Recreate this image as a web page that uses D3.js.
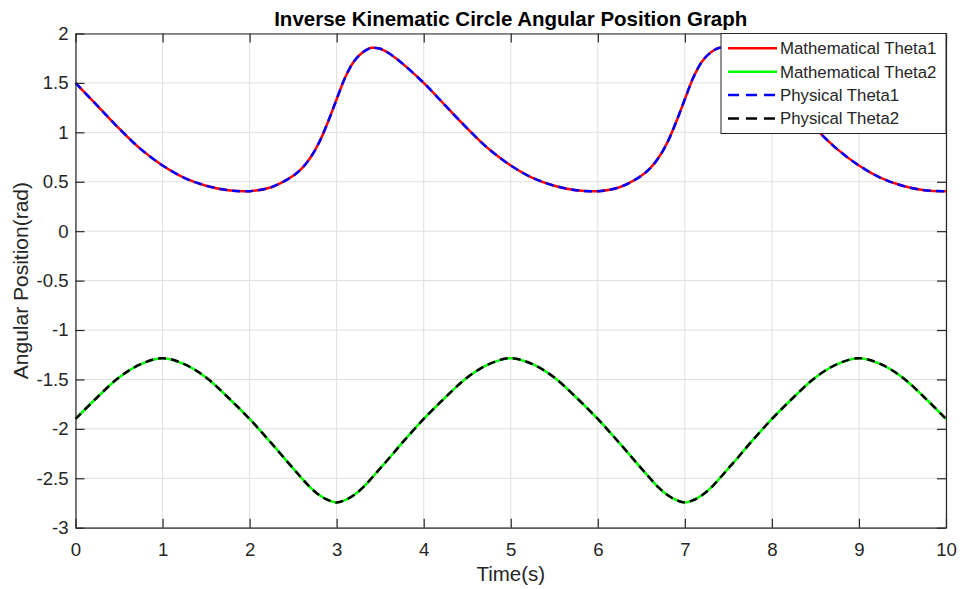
<!DOCTYPE html>
<html lang="en">
<head>
    <meta charset="UTF-8">
    <title>Inverse Kinematic Circle Angular Position Graph</title>
    <script src="https://d3js.org/d3.v7.min.js"></script>
    <style>
        body { margin: 0; background: #fff; }
        text { font-family: "Liberation Sans", Arial, sans-serif; }
    </style>
</head>
<body>
    <script>
        // time samples (s)
        const time = [
            0, 0.25, 0.5, 0.75, 1, 1.25, 1.5, 1.75, 2, 2.25, 2.5, 2.6, 2.7, 2.8, 2.9, 3, 3.1, 3.2, 3.3, 3.4, 3.5, 3.6, 3.75,
            4, 4.25, 4.5, 4.75, 5, 5.25, 5.5, 5.75, 6, 6.25, 6.5, 6.6, 6.7, 6.8, 6.9, 7, 7.1, 7.2, 7.3, 7.4, 7.5, 7.6, 7.75,
            8, 8.25, 8.5, 8.75, 9, 9.25, 9.5, 9.75, 10
        ];

        // theta1 (rad)
        const mathTheta1 = [
            1.50, 1.27, 1.04, 0.83, 0.665, 0.54, 0.46, 0.415, 0.405, 0.445, 0.56, 0.635, 0.745, 0.90, 1.105, 1.335, 1.56, 1.72, 1.81, 1.855, 1.845, 1.80, 1.70,
            1.50, 1.27, 1.04, 0.83, 0.665, 0.54, 0.46, 0.415, 0.405, 0.445, 0.56, 0.635, 0.745, 0.90, 1.105, 1.335, 1.56, 1.72, 1.81, 1.855, 1.845, 1.80, 1.70,
            1.50, 1.27, 1.04, 0.83, 0.665, 0.54, 0.46, 0.415, 0.405
        ];
        const physTheta1 = mathTheta1.slice();

        // theta2 (rad)
        const mathTheta2 = [
            -1.90, -1.68, -1.48, -1.345, -1.285, -1.345, -1.48, -1.68, -1.90, -2.145, -2.40, -2.50, -2.595, -2.67, -2.72, -2.745, -2.72, -2.67, -2.595, -2.50, -2.40, -2.30, -2.145,
            -1.90, -1.68, -1.48, -1.345, -1.285, -1.345, -1.48, -1.68, -1.90, -2.145, -2.40, -2.50, -2.595, -2.67, -2.72, -2.745, -2.72, -2.67, -2.595, -2.50, -2.40, -2.30, -2.145,
            -1.90, -1.68, -1.48, -1.345, -1.285, -1.345, -1.48, -1.68, -1.90
        ];
        const physTheta2 = mathTheta2.slice();

        const xTicks = [0, 1, 2, 3, 4, 5, 6, 7, 8, 9, 10];
        const yTicks = [-3, -2.5, -2, -1.5, -1, -0.5, 0, 0.5, 1, 1.5, 2];

        const series = [
            { name: "Mathematical Theta1", values: mathTheta1, color: "#ff0000", dash: null },
            { name: "Mathematical Theta2", values: mathTheta2, color: "#00ff00", dash: null },
            { name: "Physical Theta1", values: physTheta1, color: "#0000ff", dash: "8,5" },
            { name: "Physical Theta2", values: physTheta2, color: "#000000", dash: "8,5" }
        ];

        const width = 960, height = 589;
        const margin = { top: 33.5, right: 14, bottom: 61.3, left: 75.5 };
        const innerW = width - margin.left - margin.right;
        const innerH = height - margin.top - margin.bottom;
        const axisColor = "#262626";

        const svg = d3.select("body")
            .append("svg")
            .attr("width", width)
            .attr("height", height);

        svg.append("rect")
            .attr("width", width)
            .attr("height", height)
            .attr("fill", "#fff");

        const g = svg.append("g")
            .attr("transform", `translate(${margin.left},${margin.top})`);

        const x = d3.scaleLinear().domain([0, 10]).range([0, innerW]);
        const y = d3.scaleLinear().domain([-3, 2]).range([innerH, 0]);

        // grid
        g.append("g").selectAll("line")
            .data(xTicks)
            .join("line")
            .attr("x1", d => x(d)).attr("x2", d => x(d))
            .attr("y1", 0).attr("y2", innerH)
            .attr("stroke", "#dfdfdf");
        g.append("g").selectAll("line")
            .data(yTicks)
            .join("line")
            .attr("x1", 0).attr("x2", innerW)
            .attr("y1", d => y(d)).attr("y2", d => y(d))
            .attr("stroke", "#dfdfdf");

        // lines
        const line = d3.line()
            .x((d, i) => x(time[i]))
            .y(d => y(d))
            .curve(d3.curveCatmullRom.alpha(0.5));

        g.append("g").selectAll("path")
            .data(series)
            .join("path")
            .attr("d", d => line(d.values))
            .attr("fill", "none")
            .attr("stroke", d => d.color)
            .attr("stroke-width", 2.5)
            .attr("stroke-dasharray", d => d.dash);

        // axes (ticks point inward, box all round)
        const styleAxis = sel => {
            sel.select(".domain").attr("stroke", axisColor).attr("stroke-width", 1.2);
            sel.selectAll(".tick line").attr("stroke", axisColor).attr("stroke-width", 1.2);
            sel.selectAll(".tick text")
                .attr("fill", axisColor)
                .style("font-size", "18.6px");
        };

        g.append("g")
            .attr("transform", `translate(0,${innerH})`)
            .call(d3.axisBottom(x).tickValues(xTicks).tickSize(-9).tickPadding(15).tickSizeOuter(0).tickFormat(d => String(d)))
            .call(styleAxis);
        g.append("g")
            .call(d3.axisTop(x).tickValues(xTicks).tickSize(-9).tickSizeOuter(0).tickFormat(""))
            .call(styleAxis);
        g.append("g")
            .call(d3.axisLeft(y).tickValues(yTicks).tickSize(-9).tickPadding(7).tickSizeOuter(0).tickFormat(d => String(d)))
            .call(styleAxis);
        g.append("g")
            .attr("transform", `translate(${innerW},0)`)
            .call(d3.axisRight(y).tickValues(yTicks).tickSize(-9).tickSizeOuter(0).tickFormat(""))
            .call(styleAxis);

        // titles
        svg.append("text")
            .attr("x", margin.left + innerW / 2)
            .attr("y", 25.5)
            .attr("text-anchor", "middle")
            .attr("font-weight", "bold")
            .attr("font-size", "20.5px")
            .attr("fill", "#000")
            .text("Inverse Kinematic Circle Angular Position Graph");

        svg.append("text")
            .attr("x", margin.left + innerW / 2)
            .attr("y", 581)
            .attr("text-anchor", "middle")
            .attr("font-size", "20.5px")
            .attr("fill", axisColor)
            .text("Time(s)");

        svg.append("text")
            .attr("transform", `translate(28,${margin.top + innerH / 2}) rotate(-90)`)
            .attr("text-anchor", "middle")
            .attr("font-size", "21px")
            .attr("fill", axisColor)
            .text("Angular Position(rad)");

        // legend
        const legend = svg.append("g").attr("transform", "translate(721,33.5)");
        legend.append("rect")
            .attr("width", 225)
            .attr("height", 100)
            .attr("fill", "#fff")
            .attr("stroke", axisColor)
            .attr("stroke-width", 1);

        const rows = legend.selectAll("g.row")
            .data(series)
            .join("g")
            .attr("class", "row")
            .attr("transform", (d, i) => `translate(0,${14.8 + i * 23.4})`);
        rows.append("line")
            .attr("x1", 7).attr("x2", 56)
            .attr("stroke", d => d.color)
            .attr("stroke-width", 2.5)
            .attr("stroke-dasharray", d => d.dash ? "11,7" : null);
        rows.append("text")
            .attr("x", 59)
            .attr("dy", "0.35em")
            .attr("font-size", "16.8px")
            .attr("fill", axisColor)
            .text(d => d.name);
    </script>
</body>
</html>
